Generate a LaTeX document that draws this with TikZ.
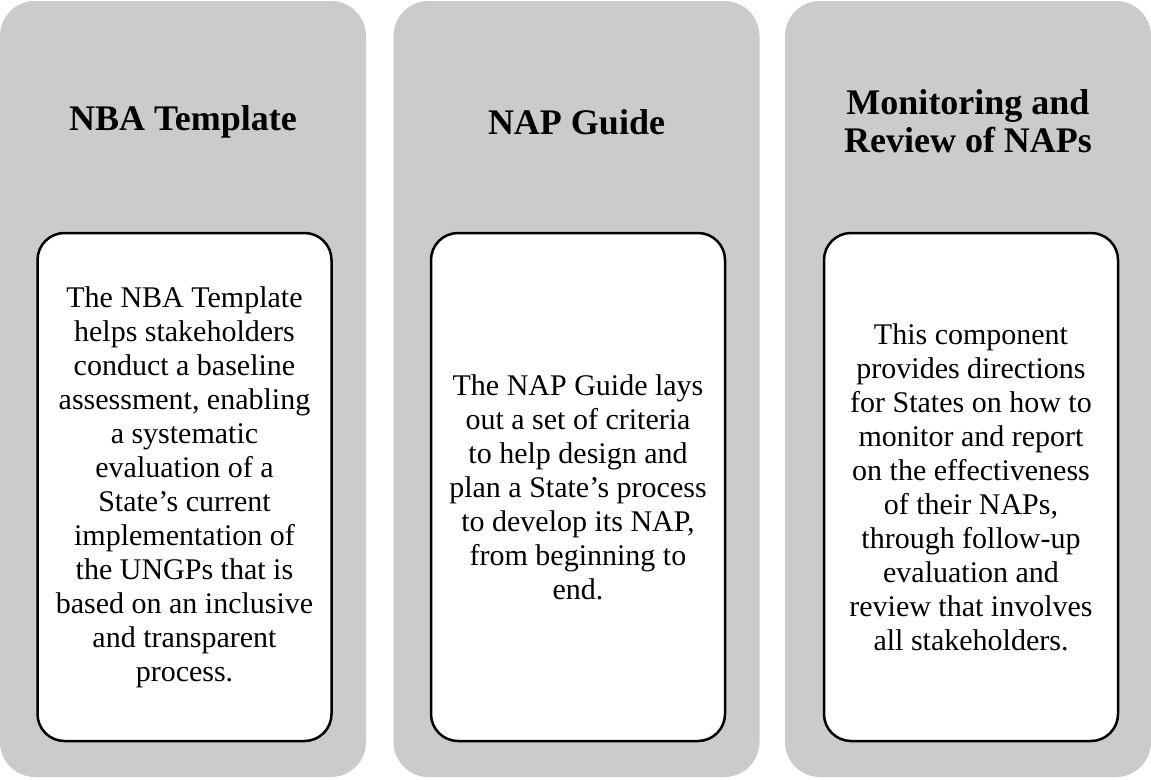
\documentclass[tikz,border=0pt]{standalone}
\usepackage{fontspec}
\setmainfont{Liberation Serif}
\usepackage{xcolor}
\usepackage{tikz}

\definecolor{colgray}{RGB}{203,203,203}

\tikzset{
    column/.style = {rectangle, fill = colgray, rounded corners = 35pt, minimum width = 366pt, minimum height = 776pt, inner sep = 0pt},
    heading/.style = {align = center, font = \fontsize{36}{38}\selectfont\bfseries},
    card/.style = {rectangle, draw = black, line width = 2.5pt, fill = white, rounded corners = 27pt, minimum width = 294pt, minimum height = 508pt, align = center, inner sep = 0pt, font = \fontsize{30}{34}\selectfont}
}

\begin{document}
\begin{tikzpicture}[x = 1pt, y = -1pt]
        \useasboundingbox (0, 0) rectangle (1151, 779);
        \node (nbacol) at (183, 389) [column] {};
        \node (napcol) at (576.5, 389) [column] {};
        \node (revcol) at (968, 389) [column] {};
        \node (nbahead) at (183, 122) [heading] {NBA Template};
        \node (naphead) at (576.5, 122) [heading] {NAP Guide};
        \node (revhead) at (968, 121) [heading] {Monitoring and\\Review of NAPs};
        \node (nbatext) at (184.5, 487) [card] {The NBA Template\\helps stakeholders\\conduct a baseline\\assessment, enabling\\a systematic\\evaluation of a\\State’s current\\implementation of\\the UNGPs that is\\based on an inclusive\\and transparent\\process.};
        \node (naptext) at (578, 487) [card] {The NAP Guide lays\\out a set of criteria\\to help design and\\plan a State’s process\\to develop its NAP,\\from beginning to\\end.};
        \node (revtext) at (971, 487) [card] {This component\\provides directions\\for States on how to\\monitor and report\\on the effectiveness\\of their NAPs,\\through follow-up\\evaluation and\\review that involves\\all stakeholders.};
    \end{tikzpicture}
\end{document}
